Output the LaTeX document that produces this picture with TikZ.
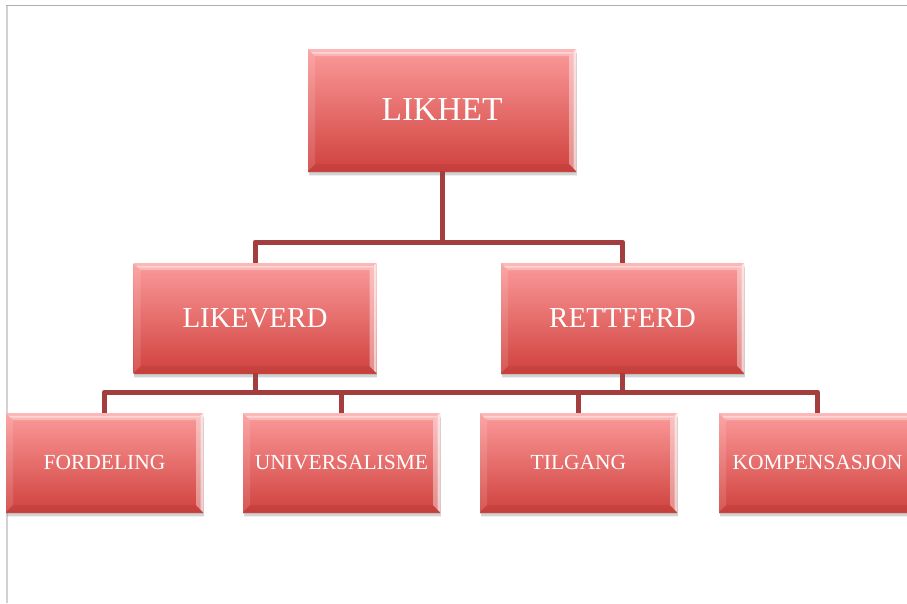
\documentclass[tikz,border=0pt]{standalone}
\usepackage{fontspec}
\setmainfont{Liberation Serif}
\usetikzlibrary{shadows}
\definecolor{boxtop}{RGB}{251,154,154}
\definecolor{boxmid}{RGB}{232,112,110}
\definecolor{boxbot}{RGB}{208,66,62}
\definecolor{conncol}{RGB}{163,62,62}
\definecolor{framecoltop}{RGB}{175,175,175}
\definecolor{framecolleft}{RGB}{210,210,210}
\tikzset{
  bevelbox/.style={rectangle, inner sep=0pt, text=white,
    top color=boxtop, middle color=boxmid, bottom color=boxbot,
    drop shadow={shadow xshift=0.5pt, shadow yshift=-5pt, opacity=0.12},
    drop shadow={shadow xshift=0.5pt, shadow yshift=-3.5pt, opacity=0.25},
    drop shadow={shadow xshift=0pt, shadow yshift=-2pt, opacity=0.25},
    path picture={
      \path (path picture bounding box.north west) coordinate (pNW)
            (path picture bounding box.north east) coordinate (pNE)
            (path picture bounding box.south west) coordinate (pSW)
            (path picture bounding box.south east) coordinate (pSE);
      \fill[white, opacity=0.30] (pNW) -- (pNE) -- ([shift={(-7pt,-7pt)}]pNE) -- ([shift={(7pt,-7pt)}]pNW) -- cycle;
      \fill[white, opacity=0.45] ([shift={(3pt,-3pt)}]pNW) -- ([shift={(-3pt,-3pt)}]pNE) -- ([shift={(-4.5pt,-4.5pt)}]pNE) -- ([shift={(4.5pt,-4.5pt)}]pNW) -- cycle;
      \fill[white, opacity=0.40] (pNE) -- (pSE) -- ([shift={(-7pt,7pt)}]pSE) -- ([shift={(-7pt,-7pt)}]pNE) -- cycle;
      \fill[white, opacity=0.55] (pNE) -- (pSE) -- ([shift={(-2.5pt,2.5pt)}]pSE) -- ([shift={(-2.5pt,-2.5pt)}]pNE) -- cycle;
      \fill[white, opacity=0.12] (pNW) -- (pSW) -- ([shift={(7pt,7pt)}]pSW) -- ([shift={(7pt,-7pt)}]pNW) -- cycle;
      \fill[black, opacity=0.05] (pSW) -- (pSE) -- ([shift={(-7pt,7pt)}]pSE) -- ([shift={(7pt,7pt)}]pSW) -- cycle;
    }},
  levelone/.style={bevelbox, minimum width=268pt, minimum height=122pt, font=\fontsize{33.5}{40}\selectfont},
  leveltwo/.style={bevelbox, minimum width=243pt, minimum height=110pt, font=\fontsize{29}{35}\selectfont},
  levelthree/.style={bevelbox, minimum width=197pt, minimum height=99pt, font=\fontsize{21.5}{26}\selectfont},
  conn/.style={draw=conncol, line width=5pt, line join=round}
}
\begin{document}
\begin{tikzpicture}[x=1pt, y=-1pt]
  \useasboundingbox (0,0) rectangle (907,603);
  \clip (0,0) rectangle (907,603);
  \fill[white] (0,0) rectangle (907,603);
  % frame lines
  \draw[framecolleft, line width=1.4pt] (7,603) -- (7,5.5);
  \draw[framecoltop, line width=1.2pt] (6.3,5.5) -- (907,5.5);
  % coordinates of the buses
  \coordinate (busA) at (442,242);
  \coordinate (busB) at (442,392);
  % nodes
  \node[levelone] (likhet) at (442,110) {LIKHET};
  \node[leveltwo] (likeverd) at (255,318) {LIKEVERD};
  \node[leveltwo] (rettferd) at (622.5,318) {RETTFERD};
  \node[levelthree] (fordeling) at (104.5,462.5) {FORDELING};
  \node[levelthree] (universalisme) at (341.5,462.5) {UNIVERSALISME};
  \node[levelthree] (tilgang) at (578.5,462.5) {TILGANG};
  \node[levelthree] (kompensasjon) at (817.5,462.5) {KOMPENSASJON};
  % connectors
  \draw[conn] (likhet.south) -- (busA);
  \draw[conn] (likeverd.north) |- (busA);
  \draw[conn] (rettferd.north) |- (busA);
  \draw[conn] (fordeling.north) |- (kompensasjon.north |- busB) -- (kompensasjon.north);
  \draw[conn] (universalisme.north) -- (universalisme.north |- busB);
  \draw[conn] (tilgang.north) -- (tilgang.north |- busB);
  \draw[conn] (likeverd.south) -- (likeverd.south |- busB);
  \draw[conn] (rettferd.south) -- (rettferd.south |- busB);
\end{tikzpicture}
\end{document}
